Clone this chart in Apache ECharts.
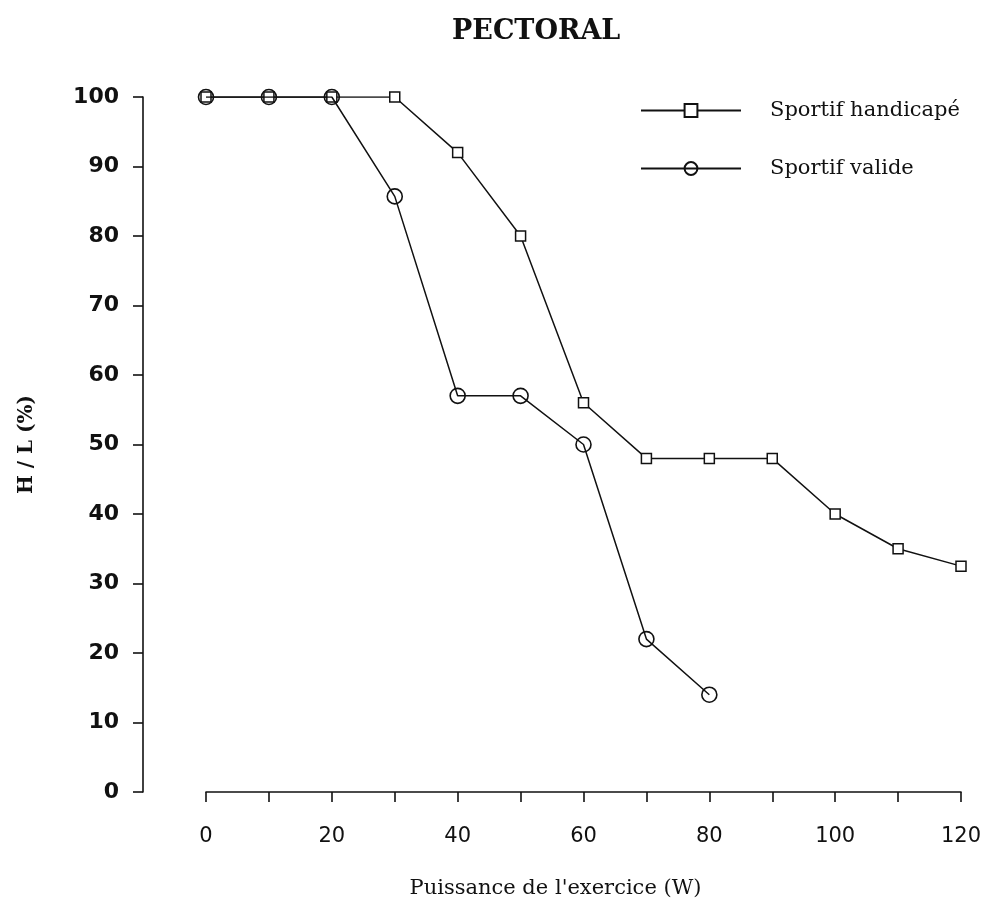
<!DOCTYPE html>
<html>
<head>
<meta charset="utf-8">
<script src="https://cdn.jsdelivr.net/npm/echarts@6/dist/echarts.min.js"></script>
<style>
html,body{margin:0;padding:0;background:#fff;}
#c{width:996px;height:909px;}
</style>
</head>
<body>
<div id="c"></div>
<script>
const titleText = 'PECTORAL';
const xName = "Puissance de l'exercice (W)";
const yName = 'H / L (%)';
const seriesNames = ['Sportif handicapé', 'Sportif valide'];
const handicapeX = [0, 10, 20, 30, 40, 50, 60, 70, 80, 90, 100, 110, 120];
const handicapeY = [100, 100, 100, 100, 92, 80, 56, 48, 48, 48, 40, 35, 32.5];
const valideX = [0, 10, 20, 30, 40, 50, 60, 70, 80];
const valideY = [100, 100, 100, 85.7, 57, 57, 50, 22, 14];

const ink = '#111';
const chart = echarts.init(document.getElementById('c'));
chart.setOption({
  backgroundColor: '#fff',
  animation: false,
  title: {
    text: titleText, left: 447, top: 13,
    textStyle: {fontFamily: 'DejaVu Serif', fontSize: 27, fontWeight: 'bold', color: ink}
  },
  legend: {
    orient: 'vertical', left: 635, top: 95,
    itemWidth: 100, itemHeight: 16, itemGap: 37,
    textStyle: {fontFamily: 'DejaVu Serif', fontSize: 21, color: ink, padding: [0, 0, 0, 24]},
    data: seriesNames
  },
  grid: {left: 206, right: 35, top: 97, bottom: 117, containLabel: false},
  xAxis: {
    type: 'value', min: 0, max: 120, interval: 10,
    name: xName, nameLocation: 'middle', nameGap: 86,
    nameTextStyle: {fontFamily: 'DejaVu Serif', fontSize: 21, color: ink, padding: [0, 56, 0, 0]},
    axisLine: {show: true, onZero: false, lineStyle: {color: ink, width: 1.6}},
    axisTick: {show: true, inside: false, length: 10, lineStyle: {color: ink, width: 1.6}},
    axisLabel: {
      margin: 34, color: ink, fontFamily: 'DejaVu Sans', fontSize: 21,
      formatter: v => (v % 20 === 0 ? String(v) : '')
    },
    splitLine: {show: false}
  },
  yAxis: {
    type: 'value', min: 0, max: 100, interval: 10, offset: 63,
    name: yName, nameLocation: 'middle', nameGap: 106, nameRotate: 90,
    nameTextStyle: {fontFamily: 'DejaVu Serif', fontSize: 20, fontWeight: 'bold', color: ink},
    axisLine: {show: true, onZero: false, lineStyle: {color: ink, width: 1.6}},
    axisTick: {show: true, inside: false, length: 10, lineStyle: {color: ink, width: 1.6}},
    axisLabel: {margin: 24, color: ink, fontFamily: 'DejaVu Sans', fontSize: 22, fontWeight: 'bold'},
    splitLine: {show: false}
  },
  series: [
    {
      name: seriesNames[0], type: 'line',
      data: handicapeX.map((x, i) => [x, handicapeY[i]]),
      symbol: 'rect', symbolSize: 10,
      lineStyle: {color: ink, width: 1.5},
      itemStyle: {color: '#fff', borderColor: ink, borderWidth: 1.5},
      z: 2
    },
    {
      name: seriesNames[1], type: 'line',
      data: valideX.map((x, i) => [x, valideY[i]]),
      symbol: 'circle', symbolSize: 15,
      lineStyle: {color: ink, width: 1.5},
      itemStyle: {color: 'rgba(255,255,255,0)', borderColor: ink, borderWidth: 1.6},
      z: 3
    }
  ]
});
</script>
</body>
</html>
